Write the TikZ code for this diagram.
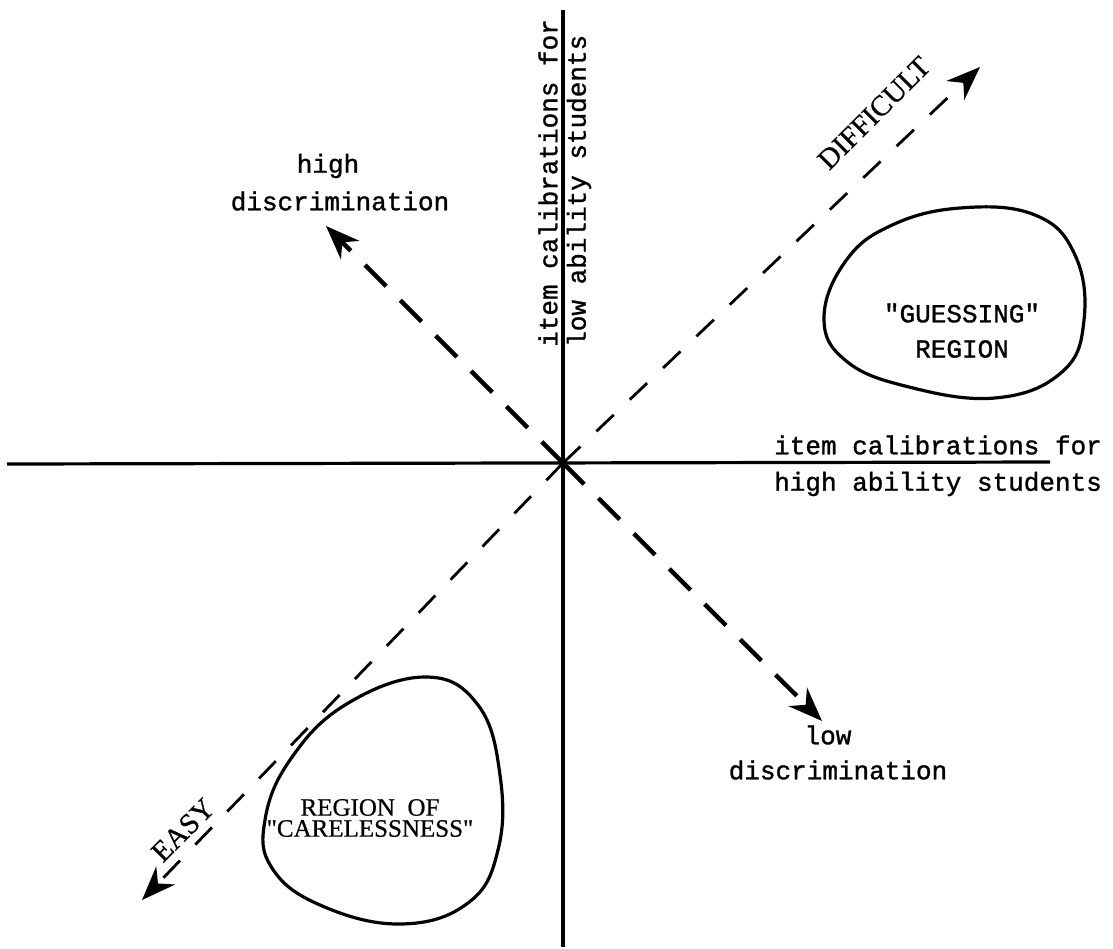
\documentclass[tikz,border=0pt]{standalone}
\usepackage{fontspec}
\setmainfont{Liberation Serif}
\newfontfamily\tw[FakeBold=1.2]{Liberation Mono}
\newfontfamily\sr[FakeBold=0.6]{Liberation Serif}
\usetikzlibrary{arrows.meta}
\begin{document}
\begin{tikzpicture}[x=1pt,y=-1pt,
  axisline/.style={line width=3.2pt},
  diagline/.style={line width=2.8pt, dash pattern=on 24pt off 22pt},
  discline/.style={line width=4.4pt, dash pattern=on 30pt off 20pt},
  arrhead/.style={-{Stealth[length=34pt,width=26pt,inset=11pt]}},
  blobline/.style={line width=3.2pt},
  monotext/.style={font=\tw\fontsize{26}{30}\selectfont, inner sep=0pt},
  seriftext/.style={font=\sr\fontsize{29}{30}\selectfont, inner sep=0pt},
  regtext/.style={font=\sr\fontsize{25}{21}\selectfont, inner sep=0pt, align=center},
]
\useasboundingbox (0,0) rectangle (1113,948);
\coordinate (O) at (563,463);
\coordinate (vt) at (563,10);
\coordinate (vb) at (563,947);
\coordinate (hl) at (7,464);
\coordinate (hr) at (1050,462);
\draw[axisline] (vt) -- (vb);
\draw[axisline] (hl) -- (hr);

% axis labels
\node[monotext, rotate=90, anchor=west] (v1) at (548,347) {item calibrations for};
\node[monotext, rotate=90, anchor=west] (v2) at (579,347) {low ability students};
\node[monotext, anchor=west] (h1) at (774,445) {item calibrations for};
\node[monotext, anchor=west] (h2) at (774,484) {high ability students};

% diagonal arrows
\coordinate (ne) at (980,67);
\coordinate (sw) at (142,900);
\coordinate (nw) at (326,226);
\coordinate (se) at (822,721);
\draw[diagline, arrhead] (O) -- (ne);
\draw[diagline, arrhead] (O) -- (sw);
\draw[discline, arrhead] (O) -- (nw);
\draw[discline, arrhead] (O) -- (se);

\node[seriftext, rotate=45] (diff) at (874,113) {DIFFICULT};
\node[seriftext, rotate=45] (easy) at (183,830) {EASY};

\node[monotext] (hi1) at (328,166) {high};
\node[monotext] (hi2) at (340,201) {discrimination};
\node[monotext] (lo1) at (828,735) {low};
\node[monotext] (lo2) at (838,770) {discrimination};

% regions
\draw[blobline] plot[smooth cycle, tension=0.7] coordinates {
  (824,318) (845,262) (890,226) (960,208) (1035,215) (1075,255)
  (1084,320) (1062,372) (995,398) (905,386) (845,360)};
\node[monotext] (g1) at (962,313) {\textquotedbl GUESSING\textquotedbl};
\node[monotext] (g2) at (962,349) {REGION};

\draw[blobline] plot[smooth cycle, tension=0.7] coordinates {
  (425,677) (478,705) (500,775) (498,850) (468,903) (400,924)
  (320,905) (272,868) (265,820) (290,760) (345,705)};
\node[regtext] (c1) at (370,818) {REGION\ \ OF\\\textquotedbl CARELESSNESS\textquotedbl};
\end{tikzpicture}
\end{document}
